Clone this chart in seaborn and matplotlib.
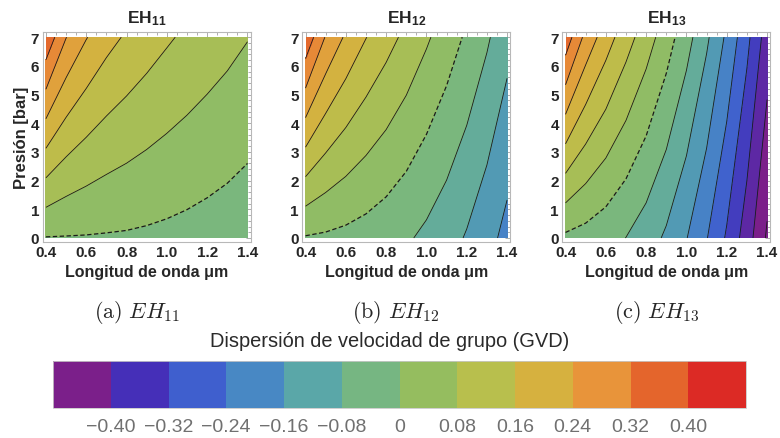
import numpy as np
import matplotlib
matplotlib.use("Agg")
import matplotlib.pyplot as plt
import seaborn as sns
from matplotlib.colors import ListedColormap, LinearSegmentedColormap, BoundaryNorm, TwoSlopeNorm
from matplotlib.cm import ScalarMappable
from matplotlib.ticker import AutoMinorLocator, MultipleLocator

# =====================================================
# DATA (GVD, at 0 bar and 7 bar)
# =====================================================
wavelength = [0.4, 0.5, 0.6, 0.7, 0.8, 0.9, 1.0, 1.1, 1.2, 1.3, 1.4]
pressure = [0.0, 7.0]

gvd_eh11_p0 = [-0.003, -0.004, -0.005, -0.007, -0.009, -0.013, -0.018, -0.024, -0.031, -0.039, -0.049]
gvd_eh11_p7 = [0.541, 0.402, 0.324, 0.268, 0.230, 0.198, 0.170, 0.146, 0.124, 0.104, 0.083]

gvd_eh12_p0 = [-0.006, -0.012, -0.021, -0.033, -0.049, -0.070, -0.097, -0.129, -0.167, -0.212, -0.265]
gvd_eh12_p7 = [0.538, 0.394, 0.308, 0.242, 0.190, 0.141, 0.091, 0.041, -0.012, -0.069, -0.133]

gvd_eh13_p0 = [-0.015, -0.030, -0.051, -0.081, -0.122, -0.173, -0.237, -0.316, -0.410, -0.521, -0.651]
gvd_eh13_p7 = [0.529, 0.376, 0.278, 0.194, 0.118, 0.038, -0.049, -0.146, -0.255, -0.378, -0.519]

mode_titles = ["EH$_{\\mathbf{11}}$", "EH$_{\\mathbf{12}}$", "EH$_{\\mathbf{13}}$"]
captions = [r"$\mathrm{(a)}\ EH_{11}$", r"$\mathrm{(b)}\ EH_{12}$", r"$\mathrm{(c)}\ EH_{13}$"]

cbar_colors = ["#7b1f8a", "#452fb8", "#3f5fce", "#4888c4", "#5aa7a8", "#76b682",
               "#95bd5f", "#b8bf4d", "#d6b13f", "#e8943a", "#e4652c", "#dc2a25"]
cbar_bounds = [-0.48, -0.40, -0.32, -0.24, -0.16, -0.08, 0.0, 0.08, 0.16, 0.24, 0.32, 0.40, 0.48]
cbar_ticks = [-0.40, -0.32, -0.24, -0.16, -0.08, 0.0, 0.08, 0.16, 0.24, 0.32, 0.40]
cbar_labels = ["\u22120.40", "\u22120.32", "\u22120.24", "\u22120.16", "\u22120.08", "0",
               "0.08", "0.16", "0.24", "0.32", "0.40"]

# =====================================================
# STYLE
# =====================================================
sns.set_theme(style="white")
plt.rcParams["font.family"] = ["Liberation Sans", "DejaVu Sans"]
plt.rcParams["mathtext.fontset"] = "custom"
plt.rcParams["mathtext.rm"] = "Liberation Sans"
plt.rcParams["mathtext.bf"] = "Liberation Sans:bold"
plt.rcParams["mathtext.it"] = "Liberation Sans:italic"

W, H = 780, 439
fig = plt.figure(figsize=(W / 100, H / 100), dpi=100)

plot_cmap = LinearSegmentedColormap.from_list("gvd", cbar_colors)
plot_norm = TwoSlopeNorm(vcenter=0.0, vmin=-0.58, vmax=0.65)
levels = np.round(np.arange(-0.72, 0.57, 0.08), 2)
line_styles = [(0, (3.5, 2)) if abs(l) < 1e-9 else "-" for l in levels]
line_widths = [0.9 if abs(l) < 1e-9 else 0.6 for l in levels]

fields = [
    np.array([gvd_eh11_p0, gvd_eh11_p7]),
    np.array([gvd_eh12_p0, gvd_eh12_p7]),
    np.array([gvd_eh13_p0, gvd_eh13_p7]),
]

# =====================================================
# PANELS
# =====================================================
lefts = [42.7, 302.3, 562.3]
ax_w, ax_top, ax_bot = 208.0, 33.3, 243.0
centers = []

for i, Z in enumerate(fields):
    ax = fig.add_axes([lefts[i] / W, 1 - ax_bot / H, ax_w / W, (ax_bot - ax_top) / H])
    ax.contourf(wavelength, pressure, Z, levels=levels, cmap=plot_cmap, norm=plot_norm)
    ax.contour(wavelength, pressure, Z, levels=levels, colors="k",
               linewidths=line_widths, linestyles=line_styles)
    ax.set_xlim(0.384, 1.416)
    ax.set_ylim(-0.14, 7.17)
    ax.xaxis.set_major_locator(MultipleLocator(0.2))
    ax.xaxis.set_minor_locator(AutoMinorLocator(4))
    ax.yaxis.set_major_locator(MultipleLocator(1))
    ax.yaxis.set_minor_locator(AutoMinorLocator(5))
    ax.tick_params(which="both", direction="in", top=True, right=True, color="#a0a0a0",
                   width=0.6, labelsize=11, pad=2.5)
    ax.tick_params(which="major", length=3.5)
    ax.tick_params(which="minor", length=2)
    for lab in ax.get_xticklabels() + ax.get_yticklabels():
        lab.set_fontweight("bold")
    for sp in ax.spines.values():
        sp.set_color("#b8b8b8")
        sp.set_linewidth(0.8)
    ax.set_title(mode_titles[i], fontsize=12.5, fontweight="bold", pad=7)
    ax.set_xlabel("Longitud de onda \u03bcm", fontsize=11.5, fontweight="bold", labelpad=3)
    if i == 0:
        ax.set_ylabel("Presi\u00f3n [bar]", fontsize=12, fontweight="bold", labelpad=1)
    centers.append((lefts[i] + ax_w / 2 - 10) / W)

for i, c in enumerate(centers):
    fig.text(c, 1 - 313 / H, captions[i], math_fontfamily="cm", fontsize=16,
             ha="center", va="center")

fig.text(0.5, 1 - 342 / H, "Dispersi\u00f3n de velocidad de grupo (GVD)",
         fontsize=14.4, color="#2a2a2a", ha="center", va="center")

# =====================================================
# COLORBAR
# =====================================================
cax = fig.add_axes([53 / W, 1 - 409 / H, 693 / W, 47 / H])
bar_cmap = ListedColormap(cbar_colors)
bar_norm = BoundaryNorm(cbar_bounds, bar_cmap.N)
cb = fig.colorbar(ScalarMappable(norm=bar_norm, cmap=bar_cmap), cax=cax,
                  orientation="horizontal", ticks=cbar_ticks)
cb.minorticks_off()
cb.ax.set_xticklabels(cbar_labels)
cb.ax.tick_params(which="both", length=0, labelsize=14, labelcolor="#707070", pad=7)
cb.outline.set_edgecolor("#c8c8c8")
cb.outline.set_linewidth(0.6)

fig.savefig("out.png", dpi=100)
